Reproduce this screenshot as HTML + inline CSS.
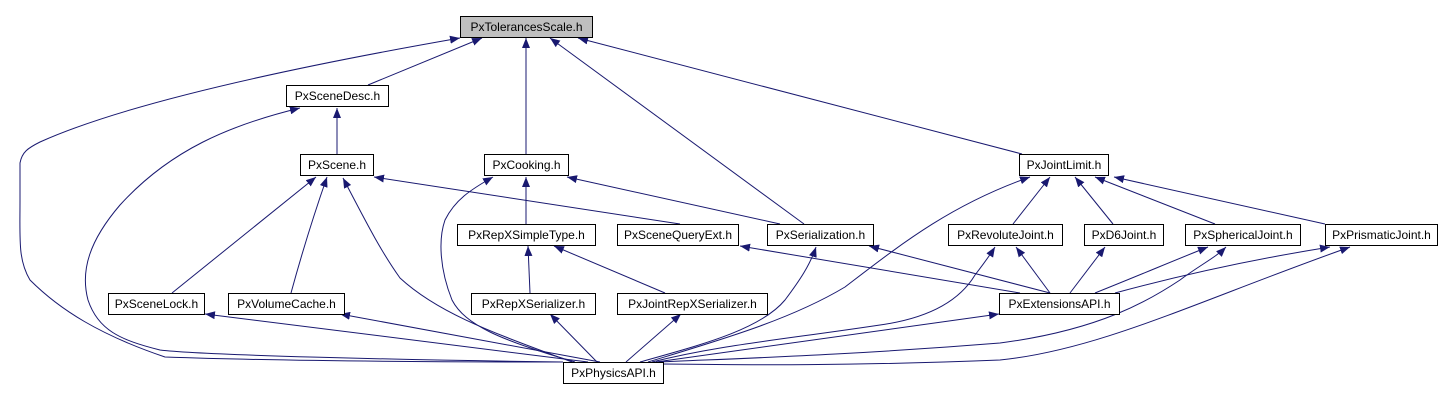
<!DOCTYPE html>
<html><head><meta charset="utf-8"><style>
html,body{margin:0;padding:0;background:#fff;}
svg{display:block;}
text{font-family:"Liberation Sans",sans-serif;font-size:12px;fill:#000;}
</style></head><body>
<svg width="1441" height="401" viewBox="0 0 1441 401" xmlns="http://www.w3.org/2000/svg">
<defs>
<marker id="a" markerWidth="10" markerHeight="8" refX="10" refY="4" orient="auto" markerUnits="userSpaceOnUse">
<path d="M0,0 L10,4 L0,8 Z" fill="#191970"/>
</marker>
</defs>
<g fill="none" stroke="#191970" stroke-width="1" marker-end="url(#a)">
<!-- to TolerancesScale -->
<path d="M563,362 C400,362 250,360 165,357 C100,335 60,310 30,280 C18,260 20,240 20,200 L20,163 C22,152 28,148 40,142 C100,115 220,80 460,38"/>
<path d="M368,85 L482,38"/>
<path d="M526,154 L526,38"/>
<path d="M804,224 L550,38"/>
<path d="M1022,154 L578,38"/>
<!-- to SceneDesc -->
<path d="M563,362 C400,360 200,355 160,350 C120,340 98,330 88,300 C80,270 90,240 120,205 C170,150 230,125 300,108"/>
<path d="M337,154 L337,108"/>
<!-- to Scene -->
<path d="M172,293 L316,177"/>
<path d="M291,293 C300,260 312,220 327,177"/>
<path d="M572,362 C500,335 440,315 400,278 C380,250 365,220 343,178"/>
<path d="M680,224 L374,177"/>
<!-- to Cooking -->
<path d="M575,362 C500,340 465,325 452,300 C440,270 438,240 445,220 C455,200 470,190 493,177"/>
<path d="M526,224 L526,177"/>
<path d="M780,224 L567,177"/>
<!-- to RepXSimpleType -->
<path d="M530,293 L528,246"/>
<path d="M665,293 L554,246"/>
<!-- to SceneLock, VolumeCache -->
<path d="M588,362 L205,314"/>
<path d="M600,362 L340,314"/>
<path d="M597,362 L550,314"/>
<path d="M626,362 L681,314"/>
<!-- to Serialization etc -->
<path d="M640,362 C700,345 760,330 785,300 C800,280 810,265 816,247"/>
<path d="M648,362 C720,340 790,320 845,287 C900,245 950,205 1030,177"/>
<path d="M652,362 C720,345 780,340 880,325 C930,318 960,300 975,275 C985,262 990,255 995,247"/>
<path d="M656,362 L999,314"/>
<path d="M659,362 C750,358 850,355 1000,343 C1100,330 1150,300 1180,280 C1200,265 1215,258 1226,247"/>
<path d="M662,364 C750,365 850,366 1000,360 C1100,350 1200,300 1350,247"/>
<!-- ExtensionsAPI up -->
<path d="M1020,293 L740,246"/>
<path d="M1050,293 L869,246"/>
<path d="M1050,293 L1016,247"/>
<path d="M1070,293 L1105,247"/>
<path d="M1095,293 C1140,275 1180,258 1208,247"/>
<path d="M1115,293 C1200,270 1280,255 1330,247"/>
<!-- to JointLimit -->
<path d="M1013,224 L1050,177"/>
<path d="M1113,224 L1075,177"/>
<path d="M1215,224 L1095,177"/>
<path d="M1325,224 L1114,177"/>
</g>
<g stroke="#000" stroke-width="1">
<rect x="460.5" y="16.5" width="132" height="21" fill="#bfbfbf"/>
<rect x="286.5" y="85.5" width="102" height="21" fill="#fff"/>
<rect x="300.5" y="154.5" width="73" height="21" fill="#fff"/>
<rect x="484.5" y="154.5" width="84" height="21" fill="#fff"/>
<rect x="1019.5" y="154.5" width="89" height="21" fill="#fff"/>
<rect x="457.5" y="224.5" width="138" height="21" fill="#fff"/>
<rect x="617.5" y="224.5" width="121" height="21" fill="#fff"/>
<rect x="767.5" y="224.5" width="106" height="21" fill="#fff"/>
<rect x="948.5" y="224.5" width="114" height="21" fill="#fff"/>
<rect x="1084.5" y="224.5" width="79" height="21" fill="#fff"/>
<rect x="1185.5" y="224.5" width="115" height="21" fill="#fff"/>
<rect x="1325.5" y="224.5" width="112" height="21" fill="#fff"/>
<rect x="108.5" y="293.5" width="96" height="21" fill="#fff"/>
<rect x="228.5" y="293.5" width="116" height="21" fill="#fff"/>
<rect x="471.5" y="293.5" width="124" height="21" fill="#fff"/>
<rect x="617.5" y="293.5" width="150" height="21" fill="#fff"/>
<rect x="999.5" y="293.5" width="120" height="21" fill="#fff"/>
<rect x="563.5" y="362.5" width="100" height="21" fill="#fff"/>
</g>
<g text-anchor="middle">
<text x="526.5" y="31">PxTolerancesScale.h</text>
<text x="337.5" y="100">PxSceneDesc.h</text>
<text x="337" y="169">PxScene.h</text>
<text x="526.5" y="169">PxCooking.h</text>
<text x="1064" y="169">PxJointLimit.h</text>
<text x="526.5" y="239">PxRepXSimpleType.h</text>
<text x="678" y="239">PxSceneQueryExt.h</text>
<text x="820.5" y="239">PxSerialization.h</text>
<text x="1005.5" y="239">PxRevoluteJoint.h</text>
<text x="1124" y="239">PxD6Joint.h</text>
<text x="1243" y="239">PxSphericalJoint.h</text>
<text x="1381.5" y="239">PxPrismaticJoint.h</text>
<text x="156.5" y="308">PxSceneLock.h</text>
<text x="286.5" y="308">PxVolumeCache.h</text>
<text x="533.5" y="308">PxRepXSerializer.h</text>
<text x="692.5" y="308">PxJointRepXSerializer.h</text>
<text x="1059.5" y="308">PxExtensionsAPI.h</text>
<text x="613.5" y="377">PxPhysicsAPI.h</text>
</g>
</svg>
</body></html>
